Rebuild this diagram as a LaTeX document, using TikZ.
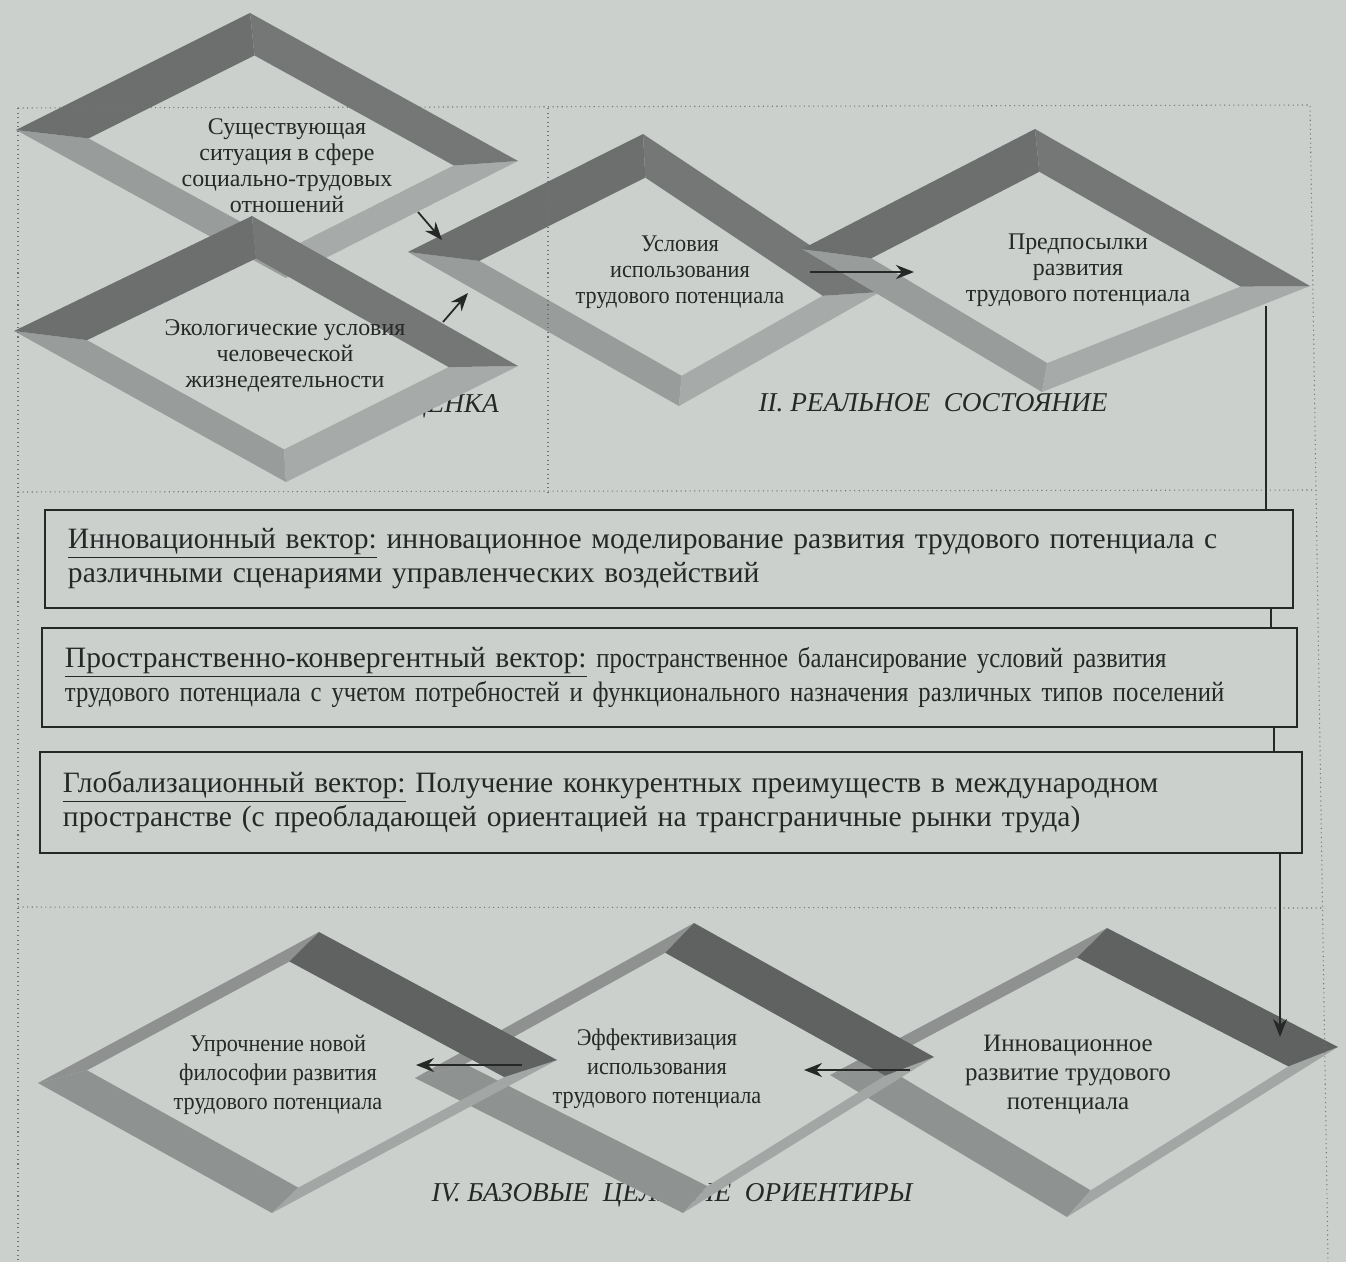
\documentclass[tikz,border=0pt]{standalone}
\usepackage{fontspec}
\setmainfont{Liberation Serif}
\newfontfamily\narrowserif[FakeStretch=0.88]{Liberation Serif}
\newfontfamily\condserif[FakeStretch=0.93]{Liberation Serif}
\usetikzlibrary{calc,arrows.meta}

\definecolor{paper}{RGB}{203,208,204}
\definecolor{ink}{RGB}{38,40,40}
\definecolor{uptl}{RGB}{108,111,110}
\definecolor{uptr}{RGB}{116,119,118}
\definecolor{upbr}{RGB}{166,170,168}
\definecolor{upbl}{RGB}{152,156,154}
\definecolor{lotl}{RGB}{142,145,144}
\definecolor{lotr}{RGB}{96,98,98}
\definecolor{lobr}{RGB}{162,166,164}
\definecolor{lobl}{RGB}{142,146,144}

\tikzset{
  dtext/.style={align=center, text=ink, inner sep=0pt, font=\fontsize{13.6}{14.8}\selectfont},
  ctext/.style={dtext, font=\condserif\fontsize{13.6}{14.8}\selectfont},
  ltext/.style={dtext, font=\condserif\fontsize{13.6}{16.4}\selectfont},
  stage/.style={text=ink, inner sep=0pt, font=\itshape\fontsize{15.5}{17}\selectfont},
  vecbox/.style={draw=ink, line width=1.1pt, align=left, text=ink, inner xsep=4.6mm,
    font=\fontsize{16.8}{19.3}\selectfont},
  frame/.style={draw=gray!90!black, line width=0.6pt, dotted},
  link/.style={draw=ink, line width=0.9pt},
  flow/.style={draw=ink, line width=1pt, -{Stealth[length=3.6mm,width=2.8mm]}}
}

% rhombic frame: prefix, band widths (top-left, top-right, bottom-right, bottom-left), colour set
\newcommand{\rhombframe}[6]{%
  \coordinate (#1a1) at ($(#1L)!#2!-90:(#1T)$);
  \coordinate (#1a2) at ($(#1T)!#2!90:(#1L)$);
  \coordinate (#1b1) at ($(#1T)!#3!-90:(#1R)$);
  \coordinate (#1b2) at ($(#1R)!#3!90:(#1T)$);
  \coordinate (#1c1) at ($(#1R)!#4!-90:(#1B)$);
  \coordinate (#1c2) at ($(#1B)!#4!90:(#1R)$);
  \coordinate (#1d1) at ($(#1B)!#5!-90:(#1L)$);
  \coordinate (#1d2) at ($(#1L)!#5!90:(#1B)$);
  \coordinate (#1Ti) at (intersection of #1a1--#1a2 and #1b1--#1b2);
  \coordinate (#1Ri) at (intersection of #1b1--#1b2 and #1c1--#1c2);
  \coordinate (#1Bi) at (intersection of #1c1--#1c2 and #1d1--#1d2);
  \coordinate (#1Li) at (intersection of #1d1--#1d2 and #1a1--#1a2);
  \fill[#6bl] (#1B) -- (#1L) -- (#1Li) -- (#1Bi) -- cycle;
  \fill[#6br] (#1R) -- (#1B) -- (#1Bi) -- (#1Ri) -- cycle;
  \fill[#6tl] (#1L) -- (#1T) -- (#1Ti) -- (#1Li) -- cycle;
  \fill[#6tr] (#1T) -- (#1R) -- (#1Ri) -- (#1Ti) -- cycle;
}

\begin{document}
\begin{tikzpicture}[x=0.2mm, y=-0.2mm]
\fill[paper] (0,0) rectangle (1346,1262);
\useasboundingbox (0,0) rectangle (1346,1262);

% stage captions, partly hidden by the frames
\node[stage, anchor=east] (st1) at (499,406) {ОЦЕНКА};
\node[stage] (st2) at (933,403) {II. РЕАЛЬНОЕ\ \ СОСТОЯНИЕ};
\node[stage] (st4) at (672,1195) {IV. БАЗОВЫЕ\ \ ЦЕЛЕВЫЕ\ \ ОРИЕНТИРЫ};

% upper row
\coordinate (AL) at (16,130);  \coordinate (AT) at (250,13);
\coordinate (AR) at (518,161); \coordinate (AB) at (286,278);
\coordinate (BL) at (14,331);  \coordinate (BT) at (252,216);
\coordinate (BR) at (518,366); \coordinate (BB) at (286,482);
\coordinate (CL) at (408,252); \coordinate (CT) at (643,134);
\coordinate (CR) at (880,292); \coordinate (CB) at (679,406);
\coordinate (DL) at (802,249); \coordinate (DT) at (1035,129);
\coordinate (DR) at (1310,286); \coordinate (DB) at (1042,392);
\rhombframe{A}{8mm}{7mm}{5mm}{5.5mm}{up}
\rhombframe{B}{8mm}{7mm}{6mm}{5.5mm}{up}
\rhombframe{C}{8mm}{7mm}{5mm}{5.5mm}{up}
\rhombframe{D}{8mm}{7mm}{5mm}{5.5mm}{up}

% lower row
\coordinate (EL) at (38,1083);  \coordinate (ET) at (319,932);
\coordinate (ER) at (557,1060); \coordinate (EB) at (272,1213);
\coordinate (FL) at (415,1078); \coordinate (FT) at (694,923);
\coordinate (FR) at (934,1057); \coordinate (FB) at (683,1213);
\coordinate (GL) at (830,1075); \coordinate (GT) at (1107,928);
\coordinate (GR) at (1338,1047); \coordinate (GB) at (1067,1217);
\rhombframe{G}{2.4mm}{8mm}{2mm}{7mm}{lo}
\rhombframe{F}{2.4mm}{8mm}{2mm}{7mm}{lo}
\rhombframe{E}{2.4mm}{8mm}{2mm}{7mm}{lo}

% dotted frame
\draw[frame] (18,108) -- (1310,105) -- (1328,1262);
\draw[frame] (18,108) -- (18,1262);
\draw[frame] (548,108) -- (548,492);
\draw[frame] (18,492) -- (1315,490);
\draw[frame] (18,907) -- (1325,908);

% texts in the frames
\node[dtext] (sit) at (287,166) {Существующая\\ситуация в сфере\\социально-трудовых\\отношений};
\node[dtext] (eco) at (285,356) {Экологические условия\\человеческой\\жизнедеятельности};
\node[ctext] (usl) at (680,272) {Условия\\использования\\трудового потенциала};
\node[dtext] (pred) at (1078,270) {Предпосылки\\развития\\трудового потенциала};
\node[ltext] (upr) at (278,1075) {Упрочнение новой\\философии развития\\трудового потенциала};
\node[ltext] (eff) at (657,1069) {Эффективизация\\использования\\трудового потенциала};
\node[dtext, font=\fontsize{14.2}{16.4}\selectfont] (inn) at (1068,1075) {Инновационное\\развитие трудового\\потенциала};

% vectors
\node[vecbox, minimum width=249.6mm, minimum height=19.6mm, text width=240.4mm] (vec1) at (669,559)
  {\underline{Инновационный вектор:} инновационное моделирование развития трудового потенциала с\\
   различными сценариями управленческих воздействий};
\node[vecbox, minimum width=251mm, minimum height=19.8mm, text width=241.8mm] (vec2) at (669.5,677.5)
  {\underline{Пространственно-конвергентный вектор:} {\narrowserif\fontsize{16}{19.3}\selectfont пространственное балансирование условий развития\\
   трудового потенциала с учетом потребностей и функционального назначения различных типов поселений}};
\node[vecbox, minimum width=252.4mm, minimum height=20.2mm, text width=243.2mm] (vec3) at (671,802.5)
  {\underline{Глобализационный вектор:} Получение конкурентных преимуществ в международном\\
   пространстве (с преобладающей ориентацией на трансграничные рынки труда)};

% arrows
\coordinate (ac1) at (418,212); \coordinate (ac2) at (442,240);
\coordinate (bc1) at (443,322); \coordinate (bc2) at (468,293);
\coordinate (cd1) at (810,272); \coordinate (cd2) at (914,272);
\coordinate (gf1) at (910,1070); \coordinate (gf2) at (804,1070);
\coordinate (fe1) at (522,1065); \coordinate (fe2) at (416,1065);
\draw[flow] (ac1) -- (ac2);
\draw[flow] (bc1) -- (bc2);
\draw[flow] (cd1) -- (cd2);
\draw[flow] (gf1) -- (gf2);
\draw[flow] (fe1) -- (fe2);

% vertical line through the vectors
\coordinate (dtap) at (1266,306);
\coordinate (j1) at (1271,0);
\coordinate (j2) at (1274,0);
\coordinate (gtap) at (1280,1037);
\draw[link] (dtap) -- (dtap |- vec1.north);
\draw[link] (vec1.south -| j1) -- (vec2.north -| j1);
\draw[link] (vec2.south -| j2) -- (vec3.north -| j2);
\draw[flow] (vec3.south -| gtap) -- (gtap);
\end{tikzpicture}
\end{document}
